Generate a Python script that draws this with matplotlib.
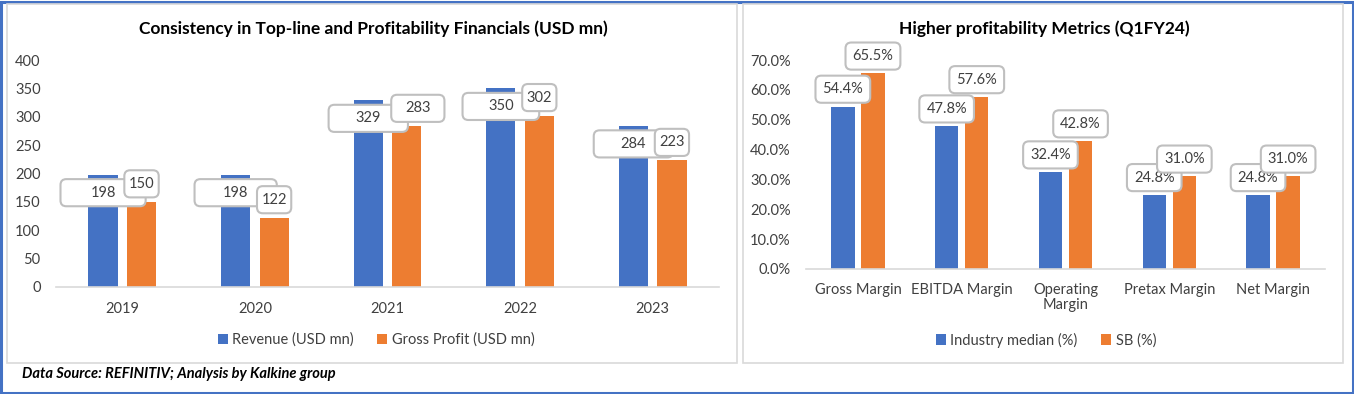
import matplotlib
matplotlib.use('Agg')
import matplotlib.pyplot as plt
import matplotlib.patches as mpatches
import numpy as np
from functools import partial

plt.rcParams['font.family'] = ['Lato', 'DejaVu Sans']

# Left chart data
years = ['2019', '2020', '2021', '2022', '2023']
revenue = [198, 198, 329, 350, 284]
gross_profit = [150, 122, 283, 302, 223]

# Right chart data
metrics = ['Gross Margin', 'EBITDA Margin', 'Operating\nMargin', 'Pretax Margin', 'Net Margin']
industry_median = [54.4, 47.8, 32.4, 24.8, 24.8]
sb = [65.5, 57.6, 42.8, 31.0, 31.0]

BLUE = '#4472C4'
ORANGE = '#ED7D31'
TXT = '#404040'
W, H = 1354, 394


def wide_round(x0, y0, width, height, mutation_size, extra=0.0):
    # rounded box stretched sideways by `extra` (in units of the font size)
    st = mpatches.BoxStyle.Round(pad=0.45, rounding_size=0.4)
    ex = extra * mutation_size
    return st(x0 - ex, y0, width + 2 * ex, height, mutation_size)


def label(ax, x, y, txt, dy, extra=0.0, dx=0):
    ax.annotate(txt, (x, y), xytext=(dx, dy), textcoords='offset points',
                ha='center', va='center', fontsize=10.5, color=TXT,
                bbox=dict(boxstyle=partial(wide_round, extra=extra),
                          fc='white', ec='#BFBFBF', lw=1.5),
                annotation_clip=False)


def style_axes(ax):
    for s in ['top', 'right', 'left']:
        ax.spines[s].set_visible(False)
    ax.spines['bottom'].set_color('#D9D9D9')
    ax.spines['bottom'].set_linewidth(1.2)
    ax.tick_params(length=0, labelsize=10.5, labelcolor=TXT)
    ax.tick_params(axis='y', pad=11)


fig = plt.figure(figsize=(W / 100, H / 100), dpi=100)

# frames
fig.add_artist(mpatches.Rectangle((1 / W, 1 / H), (W - 2) / W, (H - 3) / H,
                                  transform=fig.transFigure, fill=False, ec=BLUE, lw=2.2))
fig.add_artist(mpatches.Rectangle((7 / W, 1 - 363 / H), 730 / W, 359 / H,
                                  transform=fig.transFigure, fill=False, ec='#D9D9D9', lw=1.2))
fig.add_artist(mpatches.Rectangle((743 / W, 1 - 363 / H), 600 / W, 359 / H,
                                  transform=fig.transFigure, fill=False, ec='#D9D9D9', lw=1.2))

# ---- left chart ----
ax1 = fig.add_axes([56 / W, (H - 287) / H, 663 / W, 227 / H])
x = np.arange(len(years))
bw, off = 0.22, 0.145
ax1.bar(x - off, revenue, bw, color=BLUE, label='Revenue (USD mn)')
ax1.bar(x + off, gross_profit, bw, color=ORANGE, label='Gross Profit (USD mn)')
ax1.set_xlim(-0.5, len(years) - 0.5)
ax1.set_ylim(0, 400)
ax1.set_yticks(range(0, 401, 50))
ax1.set_xticks(x)
ax1.set_xticklabels(years)
ax1.tick_params(axis='x', pad=11)
style_axes(ax1)
blue_extra = [1.6, 1.5, 1.4, 1.3, 1.4]
orange_extra = [-0.15, -0.15, 0.5, -0.15, -0.15]
orange_dx = [0, 0, 8, 0, 0]
for i in range(len(years)):
    label(ax1, x[i] - off, revenue[i], str(revenue[i]), -13, blue_extra[i])
    label(ax1, x[i] + off, gross_profit[i], str(gross_profit[i]), 13, orange_extra[i], orange_dx[i])
fig.text(373 / W, 1 - 29 / H, 'Consistency in Top-line and Profitability Financials (USD mn)',
         ha='center', va='center', fontsize=12.5, fontweight='bold', color='black')
fig.legend(*ax1.get_legend_handles_labels(), loc='center', bbox_to_anchor=(376 / W, 1 - 340 / H),
           ncol=2, frameon=False, fontsize=10.5, handlelength=0.7, handleheight=0.7,
           handletextpad=0.3, columnspacing=1.6, labelcolor=TXT)

# ---- right chart ----
ax2 = fig.add_axes([806 / W, (H - 269) / H, 519 / W, 209 / H])
x2 = np.arange(len(metrics))
bw2, off2 = 0.225, 0.145
ax2.bar(x2 - off2, industry_median, bw2, color=BLUE, label='Industry median (%)')
ax2.bar(x2 + off2, sb, bw2, color=ORANGE, label='SB (%)')
ax2.set_xlim(-0.5, len(metrics) - 0.5)
ax2.set_ylim(0, 70)
ax2.set_yticks(range(0, 71, 10))
ax2.set_yticklabels([f'{v:.1f}%' for v in range(0, 71, 10)])
ax2.set_xticks(x2)
ax2.set_xticklabels(metrics, va='top', linespacing=1.1)
ax2.tick_params(axis='x', pad=10)
style_axes(ax2)
for i in range(len(metrics)):
    label(ax2, x2[i] - off2, industry_median[i], f'{industry_median[i]:.1f}%', 12.5, 0.03)
    label(ax2, x2[i] + off2, sb[i], f'{sb[i]:.1f}%', 12.5, 0.03)
fig.text(1044 / W, 1 - 29 / H, 'Higher profitability Metrics (Q1FY24)',
         ha='center', va='center', fontsize=12.5, fontweight='bold', color='black')
fig.legend(*ax2.get_legend_handles_labels(), loc='center', bbox_to_anchor=(1046 / W, 1 - 340 / H),
           ncol=2, frameon=False, fontsize=10.5, handlelength=0.7, handleheight=0.7,
           handletextpad=0.3, columnspacing=1.6, labelcolor=TXT)

fig.text(22 / W, 1 - 374 / H, 'Data Source: REFINITIV; Analysis by Kalkine group',
         ha='left', va='center', fontsize=10.5, fontweight='bold', style='italic', color='black')

fig.savefig('out.png', dpi=100)
